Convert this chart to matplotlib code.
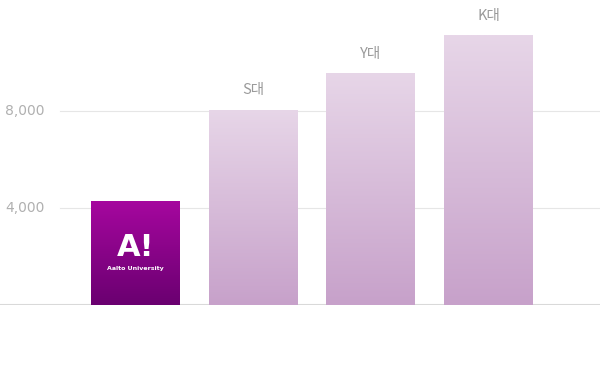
import matplotlib.pyplot as plt
import numpy as np
from matplotlib.colors import LinearSegmentedColormap

plt.rcParams['font.family'] = ['Noto Sans CJK KR', 'DejaVu Sans']

labels = ["Aalto", "S대", "Y대", "K대"]
values = [4290, 8050, 9570, 11130]
ticks = [4000, 8000]

fig = plt.figure(figsize=(6, 3.8), dpi=100)
ax = fig.add_axes([0, 75 / 380, 1, 305 / 380])
ymax = 305 / 24.25 * 1000
ax.axis('off')

for t in ticks:
    ax.axhline(t, xmin=0.1, xmax=1, color='#e6e6e6', lw=0.8, zorder=0)
    ax.text(-1.11, t, f"{t:,}", color='#b0b0b0', fontsize=10, va='center',
            ha='left', family='DejaVu Sans')
ax.axhline(0, color='#d9d9d9', lw=2.2, zorder=0.5)

width = 0.756
aalto_cm = LinearSegmentedColormap.from_list('a', ['#6a0070', '#a6079f'])
other_cm = LinearSegmentedColormap.from_list('o', ['#c7a1ca', '#e7d6e8'])
grad = np.linspace(0, 1, 256).reshape(-1, 1)

for i, (lab, v) in enumerate(zip(labels, values)):
    cm = aalto_cm if i == 0 else other_cm
    bar = ax.bar(i, v, width=width, color='none', zorder=2)[0]
    im = ax.imshow(grad, cmap=cm, aspect='auto', origin='lower',
                   extent=(i - width / 2, i + width / 2, 0, v), zorder=1)
    im.set_clip_path(bar)
    if i == 0:
        ax.text(i, v * 0.55, "A!", color='white', fontsize=22, fontweight='bold',
                ha='center', va='center', family='DejaVu Sans')
        ax.text(i, v * 0.35, "Aalto University", color='white', fontsize=4.5,
                fontweight='bold', ha='center', va='center', family='DejaVu Sans')
    else:
        ax.text(i, v + 800, lab, color='#9a9a9a', fontsize=10.5, fontweight='medium',
                ha='center', va='center')

ax.set_xlim(-1.151, 3.946)
ax.set_ylim(0, ymax)
fig.savefig('out.png', dpi=100)
